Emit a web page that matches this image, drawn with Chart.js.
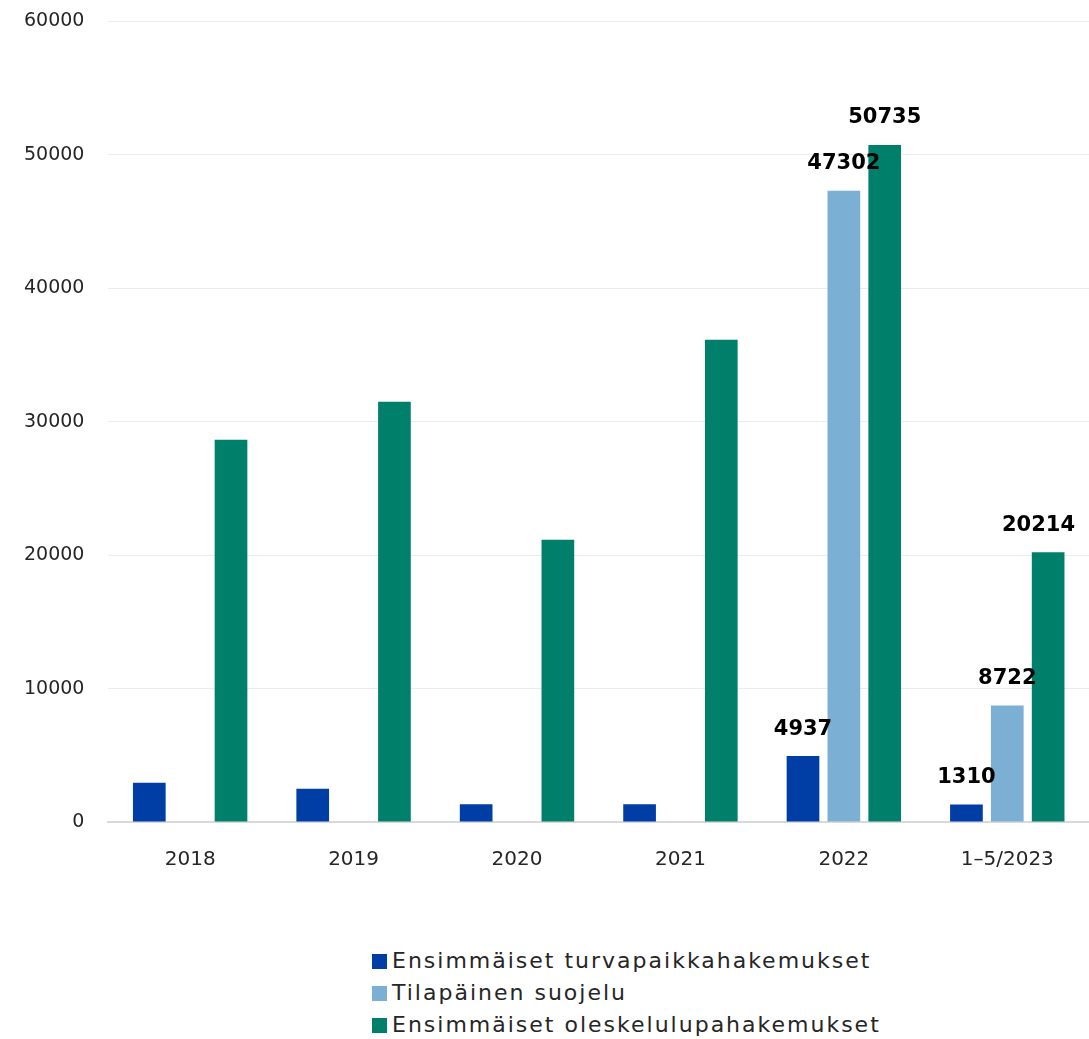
<!DOCTYPE html>
<html>
<head>
<meta charset="utf-8">
<script src="https://cdn.jsdelivr.net/npm/chart.js@4/dist/chart.umd.min.js"></script>
<style>
  body { margin: 0; background: #fff; }
  #wrap { position: relative; width: 1089px; height: 1039px; overflow: hidden; }
  #chart { position: absolute; left: 0; top: -14px; }
  #legend { position: absolute; left: 372px; top: 945px; font-family: "DejaVu Sans", sans-serif; font-size: 22px; letter-spacing: 2px; color: #262626; }
  #legend div { height: 32px; line-height: 32px; white-space: nowrap; }
  #legend span { display: inline-block; width: 15px; height: 15px; margin-right: 5px; vertical-align: -1px; }
</style>
</head>
<body>
<div id="wrap">
  <canvas id="chart" width="1089" height="904"></canvas>
  <div id="legend"></div>
</div>
<script>
// categories and series
const years = ['2018', '2019', '2020', '2021', '2022', '1–5/2023'];
const asylumFirst = [2950, 2500, 1330, 1330, 4937, 1310];
const temporaryProtection = [null, null, null, null, 47302, 8722];
const residenceFirst = [28650, 31500, 21150, 36150, 50735, 20214];
const seriesNames = ['Ensimmäiset turvapaikkahakemukset', 'Tilapäinen suojelu', 'Ensimmäiset oleskelulupahakemukset'];
const seriesColors = ['#003da5', '#7bafd4', '#00806b'];
const yTicks = [0, 10000, 20000, 30000, 40000, 50000, 60000];
// only the last two categories carry value labels
const labelledFrom = 4;

const valueLabels = {
    id: 'valueLabels',
    afterDatasetsDraw(chart) {
        const c = chart.ctx;
        c.save();
        c.font = 'bold 21px "DejaVu Sans", sans-serif';
        c.fillStyle = '#000';
        c.textAlign = 'center';
        c.textBaseline = 'middle';
        chart.data.datasets.forEach((ds, i) => {
            chart.getDatasetMeta(i).data.forEach((bar, j) => {
                if (j < labelledFrom || ds.data[j] == null) return;
                const txt = String(ds.data[j]);
                const half = c.measureText(txt).width / 2;
                const x = Math.min(bar.x, chart.width - 14 - half);
                c.fillText(txt, x, bar.y - 27);
            });
        });
        c.restore();
    }
};

const ctx = document.getElementById('chart').getContext('2d');
const chart = new Chart(ctx, {
    type: 'bar',
    data: {
        labels: years,
        datasets: [
            { label: seriesNames[0], data: asylumFirst, backgroundColor: seriesColors[0] },
            { label: seriesNames[1], data: temporaryProtection, backgroundColor: seriesColors[1] },
            { label: seriesNames[2], data: residenceFirst, backgroundColor: seriesColors[2] }
        ]
    },
    options: {
        responsive: false,
        animation: false,
        layout: { padding: { left: 0, right: 0, top: 1, bottom: 0 } },
        datasets: { bar: { categoryPercentage: 0.75, barPercentage: 0.8 } },
        plugins: { legend: { display: false }, tooltip: { enabled: false } },
        scales: {
            x: {
                grid: { display: false },
                border: { color: '#d9d9d9', width: 2 },
                ticks: { color: '#262626', padding: 18, font: { family: '"DejaVu Sans", sans-serif', size: 20 } }
            },
            y: {
                min: 0,
                max: 60000,
                afterBuildTicks(axis) { axis.ticks = yTicks.map(v => ({ value: v })); },
                grid: { color: '#ececec', drawTicks: false },
                border: { display: false },
                ticks: {
                    color: '#262626', padding: 24,
                    font: { family: '"DejaVu Sans", sans-serif', size: 19 },
                    callback: v => String(v)
                }
            }
        }
    },
    plugins: [valueLabels]
});

// legend as a vertical list under the chart
const legend = document.getElementById('legend');
seriesNames.forEach((name, i) => {
    const row = document.createElement('div');
    const sw = document.createElement('span');
    sw.style.background = seriesColors[i];
    row.appendChild(sw);
    row.appendChild(document.createTextNode(name));
    legend.appendChild(row);
});
</script>
</body>
</html>
